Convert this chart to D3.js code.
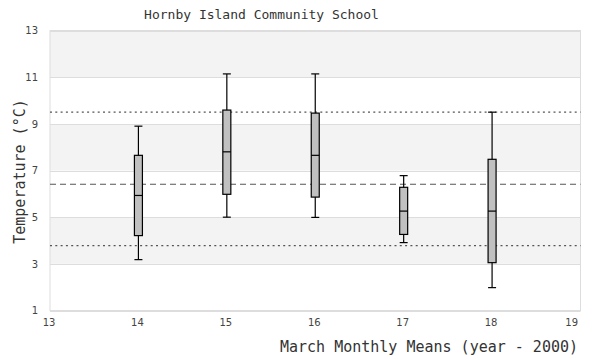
<!DOCTYPE html>
<html>
<head>
<meta charset="utf-8">
<script src="https://cdn.jsdelivr.net/npm/d3@7"></script>
<style>
  html, body { margin: 0; padding: 0; background: #fff; }
  svg { display: block; }
</style>
</head>
<body>
<svg id="chart" width="600" height="360"></svg>
<script>
// ---- data ----
const years = [14, 15, 16, 17, 18];
const whiskerLow = [3.18, 5.00, 4.99, 3.91, 1.98];
const q1 = [4.21, 5.98, 5.86, 4.26, 3.05];
const median = [5.93, 7.80, 7.65, 5.26, 5.26];
const q3 = [7.65, 9.59, 9.46, 6.28, 7.48];
const whiskerHigh = [8.90, 11.14, 11.14, 6.78, 9.50];
const refMean = 6.41;
const refUpper = 9.50;
const refLower = 3.78;
const xTicks = [13, 14, 15, 16, 17, 18, 19];
const yTicks = [1, 3, 5, 7, 9, 11, 13];
const titleText = "Hornby Island Community School";
const xTitle = "March Monthly Means (year - 2000)";
const yTitle = "Temperature (°C)";

// ---- layout ----
const svg = d3.select("#chart");
const padL = 50, padR = 580.5, padT = 30.5, padB = 310.5;
const x = d3.scaleLinear().domain([13, 19]).range([padL, padR]);
const y = d3.scaleLinear().domain([1, 13]).range([padB, padT]);

// bands
const bands = d3.range(0, yTicks.length - 1).map(i => [yTicks[i], yTicks[i + 1]]);
svg.append("g").selectAll("rect").data(bands).join("rect")
  .attr("x", padL).attr("width", padR - padL)
  .attr("y", d => y(d[1])).attr("height", d => y(d[0]) - y(d[1]))
  .attr("fill", (d, i) => i % 2 === 1 ? "#f3f3f3" : "#ffffff");

// gridlines
svg.append("g").selectAll("line").data(yTicks).join("line")
  .attr("x1", padL).attr("x2", padR)
  .attr("y1", d => Math.round(y(d)) + 0.5).attr("y2", d => Math.round(y(d)) + 0.5)
  .attr("stroke", "#dddddd").attr("stroke-width", 1);

// border
svg.append("rect")
  .attr("x", padL).attr("y", padT).attr("width", padR - padL).attr("height", padB - padT)
  .attr("fill", "none").attr("stroke", "#dddddd").attr("stroke-width", 1);

// reference lines
const refs = [
  { v: refUpper, dash: "2,3.3" },
  { v: refMean, dash: "6,4" },
  { v: refLower, dash: "2,3.3" }
];
svg.append("g").selectAll("line").data(refs).join("line")
  .attr("x1", padL).attr("x2", padR)
  .attr("y1", d => y(d.v)).attr("y2", d => y(d.v))
  .attr("stroke", "#555555").attr("stroke-width", 1.2)
  .attr("stroke-dasharray", d => d.dash);

// boxes
const boxes = years.map((yr, i) => ({
  yr, lo: whiskerLow[i], q1: q1[i], med: median[i], q3: q3[i], hi: whiskerHigh[i]
}));
const bw = 8, cw = 8;
const g = svg.append("g").selectAll("g").data(boxes).join("g");
g.append("line")
  .attr("x1", d => x(d.yr)).attr("x2", d => x(d.yr))
  .attr("y1", d => y(d.hi)).attr("y2", d => y(d.lo))
  .attr("stroke", "#000").attr("stroke-width", 1.2);
g.append("line")
  .attr("x1", d => x(d.yr) - cw / 2).attr("x2", d => x(d.yr) + cw / 2)
  .attr("y1", d => y(d.hi)).attr("y2", d => y(d.hi))
  .attr("stroke", "#000").attr("stroke-width", 1.2);
g.append("line")
  .attr("x1", d => x(d.yr) - cw / 2).attr("x2", d => x(d.yr) + cw / 2)
  .attr("y1", d => y(d.lo)).attr("y2", d => y(d.lo))
  .attr("stroke", "#000").attr("stroke-width", 1.2);
g.append("rect")
  .attr("x", d => x(d.yr) - bw / 2).attr("width", bw)
  .attr("y", d => y(d.q3)).attr("height", d => y(d.q1) - y(d.q3))
  .attr("fill", "#c0c0c0").attr("stroke", "#000").attr("stroke-width", 1.2);
g.append("line")
  .attr("x1", d => x(d.yr) - bw / 2).attr("x2", d => x(d.yr) + bw / 2)
  .attr("y1", d => y(d.med)).attr("y2", d => y(d.med))
  .attr("stroke", "#000").attr("stroke-width", 1.2);

// axes (labels only)
const tickFont = "DejaVu Sans, sans-serif";
const xAxis = d3.axisBottom(x).tickValues(xTicks).tickSize(0).tickPadding(0).tickFormat(d3.format("d"));
const xg = svg.append("g").attr("transform", `translate(0,${padB + 8})`).call(xAxis);
xg.select(".domain").remove();
xg.selectAll("text")
  .attr("font-family", tickFont).attr("font-size", 10).attr("fill", "#444")
  .attr("dy", "0.71em")
  .attr("text-anchor", (d, i) => i === xTicks.length - 1 ? "end" : "middle")
  .attr("x", (d, i) => i === xTicks.length - 1 ? -3 : -1.5);

const yAxis = d3.axisLeft(y).tickValues(yTicks).tickSize(0).tickPadding(12).tickFormat(d3.format("d"));
const yg = svg.append("g").attr("transform", `translate(${padL},0)`).call(yAxis);
yg.select(".domain").remove();
yg.selectAll("text")
  .attr("font-family", tickFont).attr("font-size", 10).attr("fill", "#444");

// titles
const monoFont = "DejaVu Sans Mono, monospace";
svg.append("text")
  .attr("x", 261.5).attr("y", 19)
  .attr("text-anchor", "middle")
  .attr("font-family", monoFont).attr("font-size", 13).attr("fill", "#333")
  .text(titleText);
svg.append("text")
  .attr("x", 578).attr("y", 352)
  .attr("text-anchor", "end")
  .attr("font-family", monoFont).attr("font-size", 15).attr("fill", "#333")
  .text(xTitle);
svg.append("text")
  .attr("transform", `translate(24.5,171.5) rotate(-90)`)
  .attr("text-anchor", "middle")
  .attr("font-family", monoFont).attr("font-size", 15).attr("fill", "#333")
  .text(yTitle);
</script>
</body>
</html>
